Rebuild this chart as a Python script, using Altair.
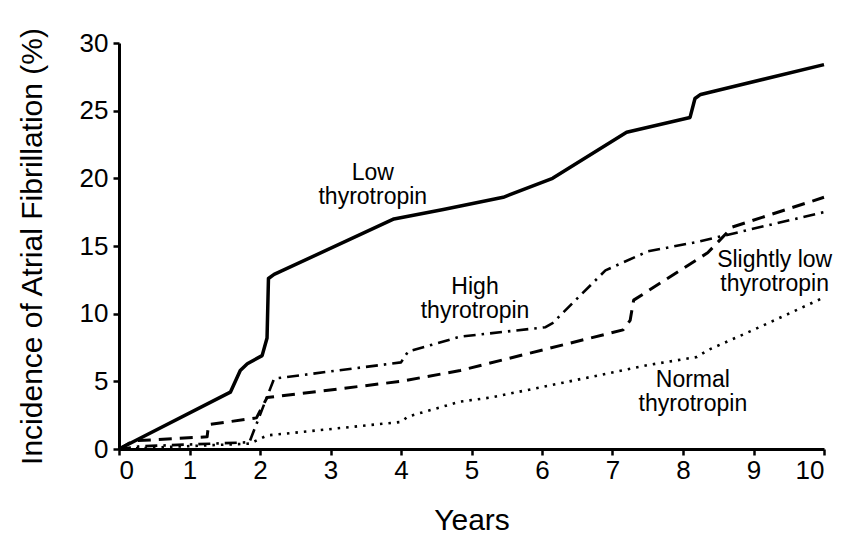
import altair as alt
import pandas as pd

# Low thyrotropin (solid)
low_x = [0, 1.58, 1.72, 1.82, 2.03, 2.1, 2.12, 2.2, 3.9, 4.6, 5.45, 6.15, 7.2, 8.1, 8.17, 8.25, 10]
low_y = [0, 4.2, 5.8, 6.3, 6.9, 8.2, 12.6, 12.9, 17.0, 17.7, 18.6, 20.0, 23.4, 24.5, 25.9, 26.2, 28.4]

# Slightly low thyrotropin (dashed)
sl_x = [0, 0.2, 1.25, 1.27, 1.95, 2.1, 4.0, 4.84, 7.15, 7.25, 7.3, 8.35, 8.7, 10]
sl_y = [0, 0.6, 0.9, 1.8, 2.3, 3.8, 5.0, 5.8, 8.8, 9.5, 11.0, 14.5, 16.4, 18.6]

# High thyrotropin (dash-dot)
hi_x = [0, 0.3, 1.85, 2.2, 4.0, 4.1, 4.84, 6.05, 6.15, 6.9, 7.5, 8.2, 10]
hi_y = [0, 0.2, 0.5, 5.2, 6.4, 7.2, 8.3, 9.0, 9.3, 13.2, 14.6, 15.3, 17.5]

# Normal thyrotropin (dotted)
no_x = [0, 1.86, 2.1, 4.0, 4.1, 4.84, 5.27, 6.3, 7.5, 8.2, 8.35, 9.0, 10]
no_y = [0, 0.4, 1.0, 2.0, 2.4, 3.5, 3.8, 4.9, 6.2, 6.8, 7.3, 8.8, 11.2]

# Annotation labels (two-line; y is the first line)
label_text = ["Low\nthyrotropin", "High\nthyrotropin", "Slightly low\nthyrotropin", "Normal\nthyrotropin"]
label_x = [3.6, 5.05, 9.3, 8.14]
label_y = [20.4, 12.0, 14.0, 5.1]

x_ticks = list(range(0, 11))
y_ticks = [0, 5, 10, 15, 20, 25, 30]

FONT = "Liberation Sans"

def frame(xs, ys):
    return pd.DataFrame({"x": xs, "y": ys, "o": list(range(len(xs)))})

xscale = alt.Scale(domain=[0, 10], nice=False, zero=False)
yscale = alt.Scale(domain=[0, 30], nice=False)

xenc = alt.X("x:Q", scale=xscale,
             axis=alt.Axis(values=x_ticks, title="Years", format="d"))
yenc = alt.Y("y:Q", scale=yscale,
             axis=alt.Axis(values=y_ticks, title="Incidence of Atrial Fibrillation (%)", format="d"))

def line(df, dash, width):
    kw = dict(color="black", strokeWidth=width, strokeJoin="round", clip=False)
    if dash:
        kw["strokeDash"] = dash
    return alt.Chart(df).mark_line(**kw).encode(x=xenc, y=yenc, order="o:Q")

low = line(frame(low_x, low_y), None, 3.5)
sl = line(frame(sl_x, sl_y), [13, 8], 3)
hi = line(frame(hi_x, hi_y), [12, 6, 2.5, 6], 2.6)
no = line(frame(no_x, no_y), [2.5, 6], 2.6)

labels = alt.Chart(pd.DataFrame({"t": label_text, "x": label_x, "y": label_y})).mark_text(
    font=FONT, fontSize=23, color="black", align="center", baseline="middle",
    lineBreak="\n", lineHeight=24,
).encode(
    x=alt.X("x:Q", scale=xscale),
    y=alt.Y("y:Q", scale=yscale),
    text="t:N",
)

chart = alt.layer(low, sl, hi, no, labels).properties(
    width=705, height=406,
    autosize=alt.AutoSizeParams(type="none"),
    padding={"left": 111, "top": 35, "right": 10, "bottom": 85},
).configure_view(stroke=None).configure_axis(
    grid=False,
    domainColor="black", domainWidth=3,
    tickColor="black", tickWidth=2.5, tickSize=6,
    labelFont=FONT, labelFontSize=26, labelColor="black",
    titleFont=FONT, titleFontSize=30, titleColor="black", titleFontWeight="normal",
).configure_axisX(
    labelPadding=2, titlePadding=22,
).configure_axisY(
    labelPadding=5, titlePadding=32,
)

chart.save("out.html", embed_options={"renderer": "svg", "actions": False})
